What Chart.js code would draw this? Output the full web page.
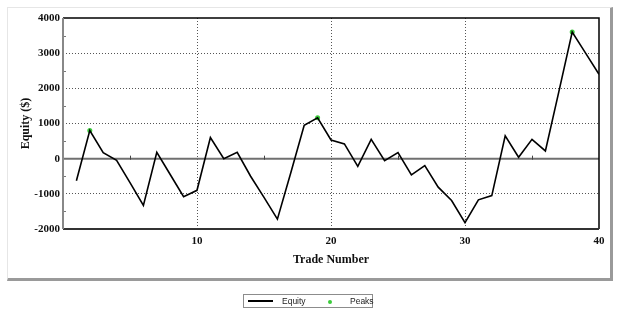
<html>
<head>
    <meta charset="UTF-8">
    <title>Equity Curve</title>
    <style>
        body { margin: 0; background: #fff; }
        #wrap { position: relative; width: 625px; height: 321px; }
        #frame {
            position: absolute; left: 7px; top: 7px; width: 602px; height: 270px;
            border-top: 1px solid #e6e6e6; border-left: 1px solid #e6e6e6;
            border-right: 3px solid #9a9a9a; border-bottom: 3px solid #9a9a9a;
        }
        #legend {
            position: absolute; left: 243px; top: 294px; width: 128px; height: 12px;
            border: 1px solid #8c8c8c;
            font-family: "Liberation Sans", Arial, sans-serif; font-size: 8.5px; color: #222;
        }
        #legend .line { position: absolute; left: 4px; top: 5px; width: 25px; height: 2px; background: #000; }
        #legend .dot { position: absolute; left: 84px; top: 5px; width: 4px; height: 4px; border-radius: 50%; background: #3ccc3c; }
        #legend span { position: absolute; top: 0px; line-height: 12px; }
        canvas { position: absolute; left: 0; top: 0; }
    </style>
</head>
<body>

<div id="wrap">
    <div id="frame"></div>
    <canvas id="equityChart" width="625" height="321"></canvas>
    <div id="legend">
        <div class="line"></div><span style="left:38px">Equity</span>
        <div class="dot"></div><span style="left:106px">Peaks</span>
    </div>
</div>

<script src="https://cdn.jsdelivr.net/npm/chart.js"></script>
<script>
    // Trade numbers and equity values
    const tradeNumbers = [1, 2, 3, 4, 5, 6, 7, 8, 9, 10,
                          11, 12, 13, 14, 15, 16, 17, 18, 19, 20,
                          21, 22, 23, 24, 25, 26, 27, 28, 29, 30,
                          31, 32, 33, 34, 35, 36, 37, 38, 39, 40];
    const equity = [-630, 800, 170, -50, -680, -1330, 180, -450, -1080, -900,
                    600, 0, 180, -500, -1100, -1720, -400, 950, 1160, 530,
                    420, -220, 550, -60, 170, -460, -200, -810, -1190, -1820,
                    -1170, -1050, 650, 40, 550, 220, 1900, 3600, 3000, 2400];
    const peakTrades = [2, 19, 38];

    const yTicks = [-2000, -1000, 0, 1000, 2000, 3000, 4000];
    const xTicks = [10, 20, 30, 40];

    const equityPoints = tradeNumbers.map((t, i) => ({ x: t, y: equity[i] }));
    const peakPoints = peakTrades.map(t => ({ x: t, y: equity[t - 1] }));

    const serifBold = { family: "'Liberation Serif', 'Times New Roman', serif", size: 11, weight: 'bold' };

    // frame lines, zero line and the little minor ticks
    const framePlugin = {
        id: 'frame',
        beforeDatasetsDraw(chart) {
            const { ctx, chartArea: a, scales: { x, y } } = chart;
            ctx.save();
            // minor ticks on left axis
            ctx.strokeStyle = '#777';
            ctx.lineWidth = 1;
            for (let v = -1500; v < 4000; v += 1000) {
                const py = Math.round(y.getPixelForValue(v)) + 0.5;
                ctx.beginPath(); ctx.moveTo(a.left, py); ctx.lineTo(a.left + 3, py); ctx.stroke();
            }
            // zero line
            const y0 = y.getPixelForValue(0);
            ctx.strokeStyle = '#707070';
            ctx.lineWidth = 2;
            ctx.beginPath(); ctx.moveTo(a.left, y0); ctx.lineTo(a.right, y0); ctx.stroke();
            // minor ticks on zero line
            ctx.lineWidth = 1;
            ctx.strokeStyle = '#444';
            [5, 15, 25, 35].forEach(v => {
                const px = Math.round(x.getPixelForValue(v)) + 0.5;
                ctx.beginPath(); ctx.moveTo(px, y0 - 3); ctx.lineTo(px, y0 + 1); ctx.stroke();
            });
            // top and right border
            ctx.strokeStyle = '#000';
            ctx.lineWidth = 1.5;
            ctx.beginPath();
            ctx.moveTo(a.left, a.top); ctx.lineTo(a.right, a.top); ctx.lineTo(a.right, a.bottom);
            ctx.stroke();
            // bottom axis
            ctx.strokeStyle = '#333';
            ctx.lineWidth = 2;
            ctx.beginPath(); ctx.moveTo(a.left, a.bottom); ctx.lineTo(a.right, a.bottom); ctx.stroke();
            // left axis
            ctx.strokeStyle = '#888';
            ctx.lineWidth = 2;
            ctx.beginPath(); ctx.moveTo(a.left, a.top); ctx.lineTo(a.left, a.bottom); ctx.stroke();
            ctx.restore();
        }
    };

    const ctx = document.getElementById('equityChart').getContext('2d');
    new Chart(ctx, {
        type: 'line',
        data: {
            datasets: [{
                label: 'Equity',
                data: equityPoints,
                borderColor: '#000',
                borderWidth: 1.6,
                pointRadius: 0,
                tension: 0,
                fill: false
            }, {
                label: 'Peaks',
                data: peakPoints,
                showLine: false,
                pointRadius: 2.5,
                pointBorderWidth: 0,
                pointBackgroundColor: '#3ccc3c'
            }]
        },
        options: {
            responsive: false,
            animation: false,
            layout: { padding: { left: 15, top: 18, right: 26, bottom: 50 } },
            plugins: { legend: { display: false }, tooltip: { enabled: false } },
            scales: {
                x: {
                    type: 'linear',
                    min: 0,
                    max: 40,
                    afterFit(s) { s.height = 42; },
                    afterBuildTicks(s) { s.ticks = [0].concat(xTicks).map(v => ({ value: v })); },
                    ticks: {
                        padding: 6,
                        color: '#111',
                        font: serifBold,
                        maxRotation: 0,
                        callback: v => (v === 0 ? '' : String(v))
                    },
                    grid: {
                        drawTicks: false,
                        lineWidth: 1,
                        color: c => (c.tick && c.tick.value > 0 && c.tick.value < 40 ? '#555' : 'rgba(0,0,0,0)')
                    },
                    border: { display: false, dash: [1, 2] },
                    title: {
                        display: true,
                        text: 'Trade Number',
                        color: '#111',
                        font: { family: "'Liberation Serif', 'Times New Roman', serif", size: 12, weight: 'bold' }
                    }
                },
                y: {
                    min: -2000,
                    max: 4000,
                    afterFit(s) { s.width = 48; },
                    afterBuildTicks(s) { s.ticks = yTicks.map(v => ({ value: v })); },
                    ticks: {
                        padding: 3,
                        color: '#111',
                        font: serifBold,
                        callback: v => String(v)
                    },
                    grid: {
                        drawTicks: false,
                        lineWidth: 1,
                        color: c => (c.tick && c.tick.value !== 0 && c.tick.value !== 4000 && c.tick.value !== -2000 ? '#555' : 'rgba(0,0,0,0)')
                    },
                    border: { display: false, dash: [1, 2] },
                    title: {
                        display: true,
                        text: 'Equity ($)',
                        color: '#111',
                        font: { family: "'Liberation Serif', 'Times New Roman', serif", size: 12, weight: 'bold' }
                    }
                }
            }
        },
        plugins: [framePlugin]
    });
</script>

</body>
</html>
